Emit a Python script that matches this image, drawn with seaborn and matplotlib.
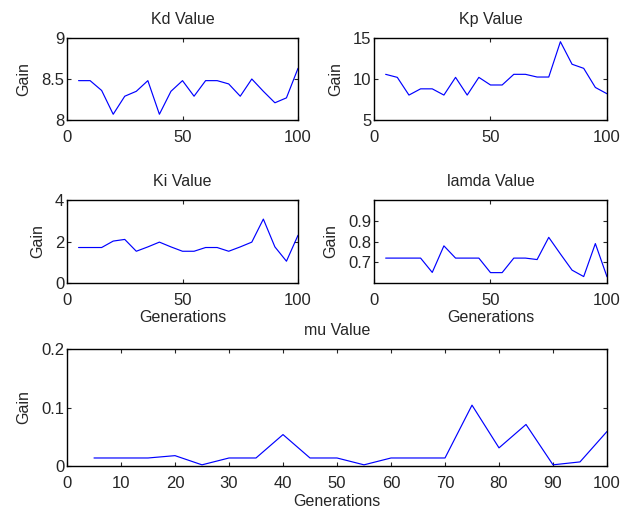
import numpy as np
import pandas as pd
import matplotlib
matplotlib.use("Agg")
import matplotlib.pyplot as plt
import seaborn as sns

generations = [5, 10, 15, 20, 25, 30, 35, 40, 45, 50, 55, 60, 65, 70, 75, 80, 85, 90, 95, 100]
kd = [8.48, 8.48, 8.36, 8.07, 8.29, 8.35, 8.48, 8.07, 8.35, 8.48, 8.29, 8.48, 8.48, 8.44, 8.29, 8.50, 8.35, 8.21, 8.27, 8.63]
kp = [10.57, 10.2, 8.04, 8.8, 8.8, 8.04, 10.2, 8.04, 10.2, 9.27, 9.27, 10.57, 10.57, 10.24, 10.24, 14.55, 11.8, 11.3, 8.97, 8.2]
ki = [1.71, 1.71, 1.71, 2.02, 2.1, 1.53, 1.74, 1.97, 1.74, 1.53, 1.53, 1.71, 1.71, 1.53, 1.74, 1.97, 3.08, 1.74, 1.05, 2.3]
lamda = [0.72, 0.72, 0.72, 0.72, 0.651, 0.779, 0.72, 0.72, 0.72, 0.65, 0.65, 0.72, 0.72, 0.713, 0.82, 0.74, 0.662, 0.631, 0.79, 0.63]
mu = [0.0137, 0.0137, 0.0137, 0.0177, 0.002, 0.0137, 0.0137, 0.0537, 0.0137, 0.0137, 0.002, 0.0137, 0.0137, 0.0137, 0.104, 0.031, 0.071, 0.002, 0.007, 0.059]

sns.set_style("ticks")
plt.rcParams['font.family'] = ['Liberation Sans', 'DejaVu Sans']
plt.rcParams['font.size'] = 11

W, H = 622, 513
fig = plt.figure(figsize=(W / 100, H / 100), dpi=100)

def ax_at(l, t, r, b):
    return fig.add_axes([l / W, 1 - b / H, (r - l) / W, (b - t) / H])

panels = [
    ("Kd Value", kd, (67, 38, 298, 120), (8, 9), [8, 8.5, 9], ["8", "8.5", "9"], [0, 50, 100], False),
    ("Kp Value", kp, (374, 38, 607, 120), (5, 15), [5, 10, 15], ["5", "10", "15"], [0, 50, 100], False),
    ("Ki Value", ki, (67, 200, 298, 283), (0, 4), [0, 2, 4], ["0", "2", "4"], [0, 50, 100], True),
    ("lamda Value", lamda, (374, 200, 607, 283), (0.6, 1.0), [0.7, 0.8, 0.9], ["0.7", "0.8", "0.9"], [0, 50, 100], True),
    ("mu Value", mu, (67, 349, 607, 466), (0, 0.2), [0, 0.1, 0.2], ["0", "0.1", "0.2"], list(range(0, 101, 10)), True),
]

for title, vals, box, ylim, yt, ytl, xt, xlab in panels:
    ax = ax_at(*box)
    df = pd.DataFrame({"Generations": generations, "Gain": vals})
    sns.lineplot(data=df, x="Generations", y="Gain", ax=ax, color="#0000ff", linewidth=0.85)
    ax.set_xlim(0, 100)
    ax.set_ylim(*ylim)
    ax.set_yticks(yt)
    ax.set_yticklabels(ytl)
    ax.set_xticks(xt)
    ax.set_xticklabels([str(v) for v in xt])
    ax.set_title(title, fontsize=11.5, pad=10)
    ax.set_ylabel("Gain", fontsize=11.5, labelpad=7)
    ax.set_xlabel("Generations" if xlab else "", fontsize=11.5, labelpad=2)
    ax.tick_params(direction="in", top=True, right=True, length=3, width=0.8, labelsize=12)
    ax.tick_params(axis="x", pad=7)
    ax.tick_params(axis="y", pad=2)
    for s in ax.spines.values():
        s.set_visible(True)
        s.set_linewidth(1.0)
        s.set_color("black")

fig.savefig("out.png", dpi=100)
